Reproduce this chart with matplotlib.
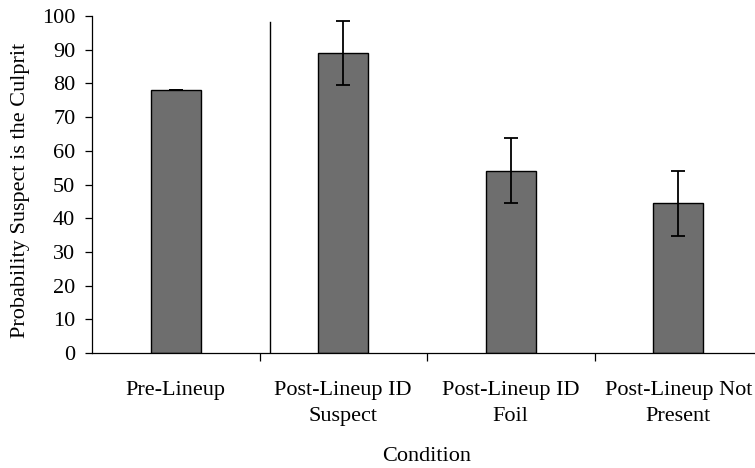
import matplotlib.pyplot as plt
import numpy as np

plt.rcParams['font.family'] = ['Liberation Serif', 'DejaVu Serif']

conditions = ['Pre-Lineup', 'Post-Lineup ID\nSuspect', 'Post-Lineup ID\nFoil', 'Post-Lineup Not\nPresent']
probability = [78.0, 89.0, 54.1, 44.4]
errors = [0.0, 9.6, 9.6, 9.6]
yticks = list(range(0, 101, 10))

fig = plt.figure(figsize=(7.55, 4.68), dpi=100)
ax = fig.add_axes([92 / 755, 115 / 468, 670 / 755, 337 / 468])

x = np.arange(len(conditions))
ax.bar(x, probability, width=0.3, color='#6e6e6e', edgecolor='black', linewidth=1.0, zorder=2)
ax.errorbar(x, probability, yerr=errors, fmt='none', ecolor='black', elinewidth=1.3,
            capsize=5, capthick=1.3, zorder=3)

# divider between pre- and post-lineup conditions
ax.plot([0.56, 0.56], [0, 98.2], color='black', linewidth=1.0, zorder=1)

ax.set_xlim(-0.5, 3.5)
ax.set_ylim(0, 100)
ax.set_yticks(yticks)
ax.set_xticks(x)
ax.set_xticklabels(conditions, fontsize=16, linespacing=1.55)
ax.set_xticks([0.5, 1.5, 2.5], minor=True)
ax.tick_params(axis='x', which='major', length=0, pad=20)
ax.tick_params(axis='x', which='minor', length=6, width=0.9, direction='out')
ax.tick_params(axis='y', labelsize=16, length=5, width=0.9, pad=7)

for side in ['top', 'right']:
    ax.spines[side].set_visible(False)
ax.spines['left'].set_linewidth(0.9)
ax.spines['bottom'].set_linewidth(0.9)

ax.set_ylabel('Probability Suspect is the Culprit', fontsize=16)
ax.yaxis.set_label_coords(-0.092, 0.484)
ax.set_xlabel('Condition', fontsize=16, labelpad=15)

fig.savefig('out.png', dpi=100)
